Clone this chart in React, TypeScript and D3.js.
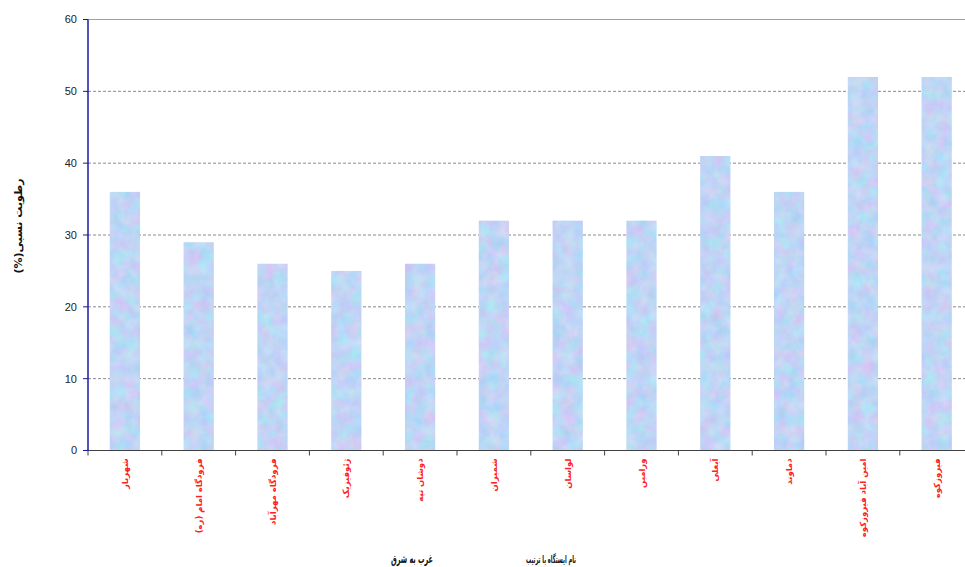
import React, { useEffect, useRef } from "react";
import * as d3 from "d3";

const stations = [
  "شهریار",
  "فرودگاه امام (ره)",
  "فرودگاه مهرآباد",
  "ژئوفیزیک",
  "دوشان تپه",
  "شمیران",
  "لواسان",
  "ورامین",
  "آبعلی",
  "دماوند",
  "امین آباد فیروزکوه",
  "فیروزکوه",
];
const humidity = [36, 29, 26, 25, 26, 32, 32, 32, 41, 36, 52, 52];
const yTicks = [0, 10, 20, 30, 40, 50, 60];
const yTitle = "رطوبت نسبی(%)";
const xTitleLeft = "غرب به شرق";
const xTitleRight = "نام ایستگاه با ترتیب";

export default function App() {
  const ref = useRef<SVGSVGElement>(null);
  useEffect(() => {
    document.body.style.margin = "0";
    const svg = d3.select(ref.current);
    svg.selectAll("*").remove();
    const W = 965;
    const left = 88, top = 19.5, bottom = 450.5;
    const step = 73.8;
    const right = left + step * stations.length;

    const x = d3.scaleBand<string>().domain(stations).range([left, right]).paddingInner(0.59).paddingOuter(0.295);
    const y = d3.scaleLinear().domain([0, 60]).range([bottom, top]);

    const defs = svg.append("defs");
    const f = defs.append("filter").attr("id", "tex").attr("x", 0).attr("y", 0).attr("width", 1).attr("height", 1)
      .attr("color-interpolation-filters", "sRGB");
    f.append("feTurbulence").attr("type", "fractalNoise").attr("baseFrequency", 0.08).attr("numOctaves", 3)
      .attr("seed", 7).attr("result", "noise");
    f.append("feColorMatrix").attr("in", "noise").attr("type", "matrix")
      .attr("values", [
        "0.3 0 0 0 0.6",
        "-0.1 0.15 0 0 0.81",
        "0 0 0.07 0 0.925",
        "0 0 0 0 1",
      ].join(" "))
      .attr("result", "col");
    f.append("feComposite").attr("in", "col").attr("in2", "SourceGraphic").attr("operator", "in");

    // gridlines
    yTicks.filter((t) => t > 0).forEach((t) => {
      svg.append("line").attr("x1", left).attr("x2", W).attr("y1", y(t)).attr("y2", y(t))
        .attr("stroke", t === 60 ? "#a0a0a0" : "#8a8a8a").attr("stroke-width", 1)
        .attr("stroke-dasharray", t === 60 ? null : "3,2");
    });

    // bars
    svg.append("g").selectAll("rect").data(humidity).join("rect")
      .attr("x", (_, i) => x(stations[i])!)
      .attr("width", x.bandwidth())
      .attr("y", (d) => y(d))
      .attr("height", (d) => bottom - y(d))
      .attr("fill", "#bcd5f6")
      .attr("filter", "url(#tex)");

    // x axis
    svg.append("line").attr("x1", left).attr("x2", W).attr("y1", bottom).attr("y2", bottom)
      .attr("stroke", "#404040").attr("stroke-width", 1.2);
    d3.range(stations.length + 1).forEach((k) => {
      const xx = left + k * step;
      svg.append("line").attr("x1", xx).attr("x2", xx).attr("y1", bottom).attr("y2", bottom + 5)
        .attr("stroke", "#404040");
    });

    // y axis
    svg.append("line").attr("x1", left).attr("x2", left).attr("y1", top).attr("y2", bottom)
      .attr("stroke", "#1a1aa0").attr("stroke-width", 1.5);
    yTicks.forEach((t) => {
      svg.append("line").attr("x1", left - 5).attr("x2", left).attr("y1", y(t)).attr("y2", y(t))
        .attr("stroke", "#1a1aa0");
      svg.append("text").attr("x", left - 11).attr("y", y(t)).attr("dy", "0.35em")
        .attr("text-anchor", "end").attr("font-family", "Liberation Sans, Arial, sans-serif")
        .attr("font-size", 11).attr("fill", "#222").text(t);
    });

    // category labels
    stations.forEach((s) => {
      const cx = x(s)! + x.bandwidth() / 2;
      svg.append("text")
        .attr("transform", `translate(${cx + 3},${bottom + 8}) rotate(-90)`)
        .attr("text-anchor", "end")
        .attr("font-family", "DejaVu Sans, sans-serif").attr("font-size", 8.5).attr("font-weight", "bold")
        .attr("fill", "#ff2020").text(s);
    });

    // y title
    svg.append("text").attr("transform", `translate(22,226) rotate(-90)`)
      .attr("text-anchor", "middle").attr("direction", "rtl").attr("font-family", "DejaVu Sans, sans-serif")
      .attr("font-size", 11).attr("font-weight", "bold").attr("fill", "#111").text(yTitle);

    // x title
    svg.append("text").attr("x", 391).attr("y", 563)
      .attr("textLength", 42).attr("lengthAdjust", "spacingAndGlyphs")
      .attr("font-family", "DejaVu Sans Condensed, DejaVu Sans, sans-serif").attr("font-size", 12).attr("font-weight", "bold")
      .attr("fill", "#111").text(xTitleLeft);
    svg.append("text").attr("x", 526).attr("y", 563)
      .attr("textLength", 50).attr("lengthAdjust", "spacingAndGlyphs")
      .attr("font-family", "DejaVu Sans Condensed, DejaVu Sans, sans-serif").attr("font-size", 11).attr("font-weight", "bold")
      .attr("fill", "#111").text(xTitleRight);
  }, []);
  return <svg ref={ref} width={965} height={567} style={{ display: "block", background: "#fff" }} />;
}
